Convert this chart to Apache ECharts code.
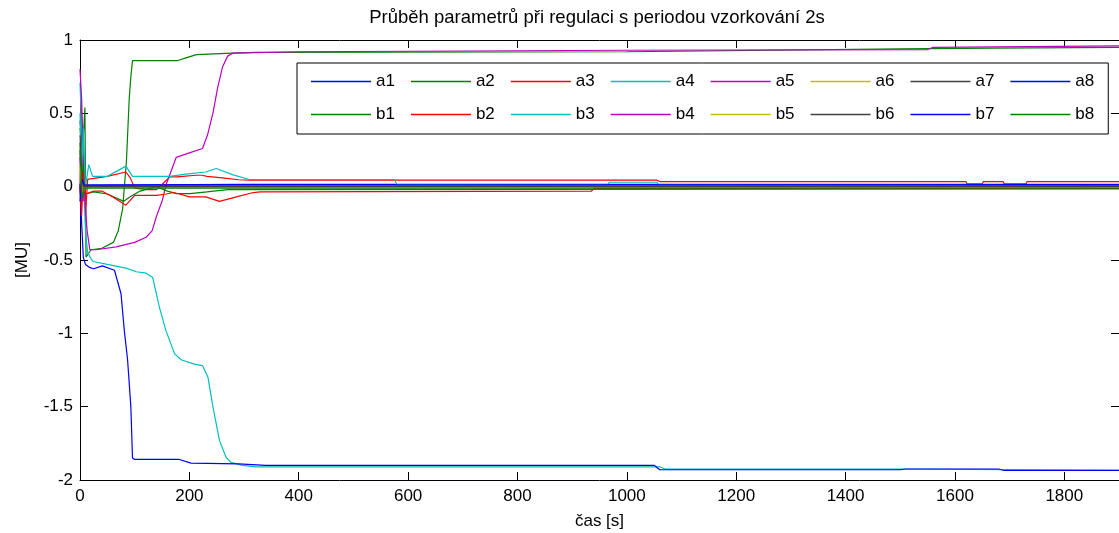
<!DOCTYPE html>
<html>
<head>
<meta charset="utf-8">
<title>Průběh parametrů</title>
<script src="https://cdn.jsdelivr.net/npm/echarts@6/dist/echarts.min.js"></script>
<style>
html,body{margin:0;padding:0;background:#fff;}
#main{width:1119px;height:533px;}
</style>
</head>
<body>
<div id="main"></div>
<script>
// casove osy a hodnoty parametru, [t, hodnota]
var a1 = [[0,0],[2,-0.25],[4,0.1],[6,0.01],[300,0.015],[1900,0.015]];
var a2 = [[0,0.4],[4,0.2],[9,0.54],[11,-0.48],[20,-0.43],[40,-0.42],[61,-0.38],[70,-0.3],[78,-0.15],[85,0.18],[90,0.6],[93,0.75],[96,0.86],[130,0.86],[179,0.86],[195,0.88],[213,0.9],[278,0.91],[320,0.915],[1000,0.92],[1500,0.94],[1670,0.945],[1900,0.95]];
var a3 = [[0,0],[2,0.6],[4,0.3],[6,-0.1],[8,0.2],[10,-0.2],[14,0.05],[25,0.056],[50,0.07],[84,0.1],[92,0.06],[100,-0.01],[122,-0.02],[140,-0.02],[158,0.044],[164,0.067],[177,0.067],[212,0.078],[224,0.078],[232,0.07],[260,0.06],[290,0.047],[310,0.044],[1055,0.044],[1060,0.035],[1620,0.035],[1622,0.02],[1650,0.02],[1652,0.035],[1688,0.035],[1690,0.02],[1730,0.02],[1732,0.035],[1900,0.035]];
var a4 = [[0,0.71],[2,0.5],[4,0.3],[6,0.1],[8,-0.1],[10,-0.3],[14,-0.45],[20,-0.49],[24,-0.51],[50,-0.53],[84,-0.555],[103,-0.58],[121,-0.59],[133,-0.62],[145,-0.82],[157,-0.98],[173,-1.14],[185,-1.18],[209,-1.21],[224,-1.22],[234,-1.3],[243,-1.5],[255,-1.73],[267,-1.845],[276,-1.88],[297,-1.9],[322,-1.91],[1060,-1.91],[1070,-1.925],[1500,-1.925],[1900,-1.935]];
var a5 = [[0,0.8],[3,0.6],[6,0.2],[9,-0.1],[13,-0.3],[18,-0.43],[30,-0.43],[66,-0.41],[100,-0.38],[121,-0.345],[132,-0.3],[140,-0.2],[150,-0.1],[158,0.02],[168,0.12],[176,0.2],[200,0.23],[224,0.26],[233,0.35],[243,0.5],[252,0.68],[261,0.82],[270,0.89],[279,0.91],[400,0.92],[1000,0.93],[1550,0.935],[1560,0.95],[1900,0.96]];
var a6 = [[0,0.1],[4,-0.05],[8,0],[1900,0]];
var a7 = [[0,0.45],[3,0.3],[6,0],[1900,0.005]];
var a8 = [[0,0.02],[3,-0.25],[6,-0.48],[10,-0.53],[17,-0.55],[25,-0.56],[41,-0.54],[63,-0.57],[75,-0.73],[81,-0.98],[87,-1.18],[93,-1.5],[96,-1.85],[100,-1.86],[182,-1.86],[203,-1.885],[290,-1.89],[340,-1.9],[1050,-1.9],[1060,-1.93],[1500,-1.93],[1510,-1.925],[1680,-1.925],[1690,-1.935],[1900,-1.935]];
var b1 = [[0,0.3],[3,-0.1],[6,0.15],[10,-0.05],[25,-0.035],[50,-0.05],[80,-0.1],[91,-0.07],[110,-0.03],[139,0],[160,-0.03],[177,-0.047],[201,-0.047],[232,-0.035],[244,-0.03],[270,-0.02],[1900,-0.015]];
var b2 = [[0,0],[3,-0.2],[6,0.1],[10,-0.05],[25,-0.03],[40,-0.03],[60,-0.07],[84,-0.126],[100,-0.06],[140,-0.06],[158,-0.05],[170,-0.04],[182,-0.05],[200,-0.07],[230,-0.07],[255,-0.1],[286,-0.07],[317,-0.04],[330,-0.035],[935,-0.031],[940,-0.012],[1900,-0.012]];
var b3 = [[0,0.5],[3,0.1],[6,0.4],[10,0],[16,0.15],[23,0.07],[50,0.07],[84,0.14],[96,0.07],[164,0.07],[193,0.085],[230,0.1],[249,0.124],[280,0.08],[310,0.049],[575,0.049],[580,0.012],[965,0.012],[968,0.03],[1055,0.03],[1058,0.012],[1900,0.012]];
var b4 = [[0,0.2],[4,-0.1],[8,0],[1900,0.005]];
var b5 = [[0,0.15],[5,-0.05],[10,0],[1900,0]];
var b6 = [[0,0.35],[4,0.05],[8,0],[1900,0]];
var b7 = [[0,-0.1],[4,0.05],[8,0.01],[1900,0.014]];
var b8 = [[0,0.25],[4,-0.08],[8,-0.01],[1900,-0.01]];

var names = ['a1','a2','a3','a4','a5','a6','a7','a8','b1','b2','b3','b4','b5','b6','b7','b8'];
var values = [a1,a2,a3,a4,a5,a6,a7,a8,b1,b2,b3,b4,b5,b6,b7,b8];
// barvy jako v matlabu
var barvy = ['#0000ff','#008000','#ff0000','#00bfbf','#bf00bf','#bfbf00','#404040'];

var xTicks = [0,200,400,600,800,1000,1200,1400,1600,1800];
var yTicks = [-2,-1.5,-1,-0.5,0,0.5,1];

var font = 'Liberation Sans, Arial, sans-serif';
var fs = 17;

var series = [];
for (var i = 0; i < names.length; i++) {
	series.push({
		name: names[i],
		type: 'line',
		data: values[i],
		symbol: 'none',
		animation: false,
		color: barvy[i % 7],
		itemStyle: {color: barvy[i % 7]},
		lineStyle: {width: 1.2, color: barvy[i % 7]}
	});
}

var chart = echarts.init(document.getElementById('main'));

function osa(typ) {
	var o = {
		type: 'value',
		axisLine: {show: true, onZero: false, lineStyle: {color: '#000', width: 1}},
		axisTick: {show: true, inside: true, length: 8, lineStyle: {color: '#000'}},
		splitLine: {show: false}
	};
	if (typ == 'x') { o.min = 0; o.max = 1900; o.interval = 200; }
	else { o.min = -2; o.max = 1; o.interval = 0.5; }
	return o;
}

var x0 = osa('x');
x0.position = 'bottom';
x0.name = 'čas [s]';
x0.nameLocation = 'middle';
x0.nameGap = 33;
x0.nameTextStyle = {fontFamily: font, fontSize: fs, color: '#000'};
x0.axisLabel = {fontFamily: font, fontSize: fs, color: '#000', margin: 8,
	formatter: function (v) { return xTicks.indexOf(v) >= 0 ? String(v) : ''; }};
var x1 = osa('x');
x1.position = 'top';
x1.axisLabel = {show: false};

var y0 = osa('y');
y0.position = 'left';
y0.name = '[MU]';
y0.nameLocation = 'middle';
y0.nameGap = 49;
y0.nameTextStyle = {fontFamily: font, fontSize: fs, color: '#000'};
y0.axisLabel = {fontFamily: font, fontSize: fs, color: '#000', margin: 7,
	formatter: function (v) { return yTicks.indexOf(v) >= 0 ? String(v) : ''; }};
var y1 = osa('y');
y1.position = 'right';
y1.axisLabel = {show: false};

var option = {
	backgroundColor: '#fff',
	title: {
		text: 'Průběh parametrů při regulaci s periodou vzorkování 2s',
		left: 592, top: 3, textAlign: 'center',
		textStyle: {fontFamily: font, fontSize: 18.5, fontWeight: 'normal', color: '#000'}
	},
	grid: {left: 80, right: 0, top: 40, bottom: 53, containLabel: false, outerBoundsMode: 'none'},
	legend: {
		data: names,
		left: 297, top: 63, width: 800,
		orient: 'horizontal',
		padding: [10, 14, 11, 14],
		icon: 'rect',
		itemWidth: 60, itemHeight: 1.4, itemGap: 16,
		borderColor: '#000', borderWidth: 1,
		backgroundColor: '#fff',
		textStyle: {fontFamily: font, fontSize: fs, lineHeight: 15, color: '#000'}
	},
	xAxis: [x0, x1],
	yAxis: [y0, y1],
	series: series
};

chart.setOption(option);
</script>
</body>
</html>
